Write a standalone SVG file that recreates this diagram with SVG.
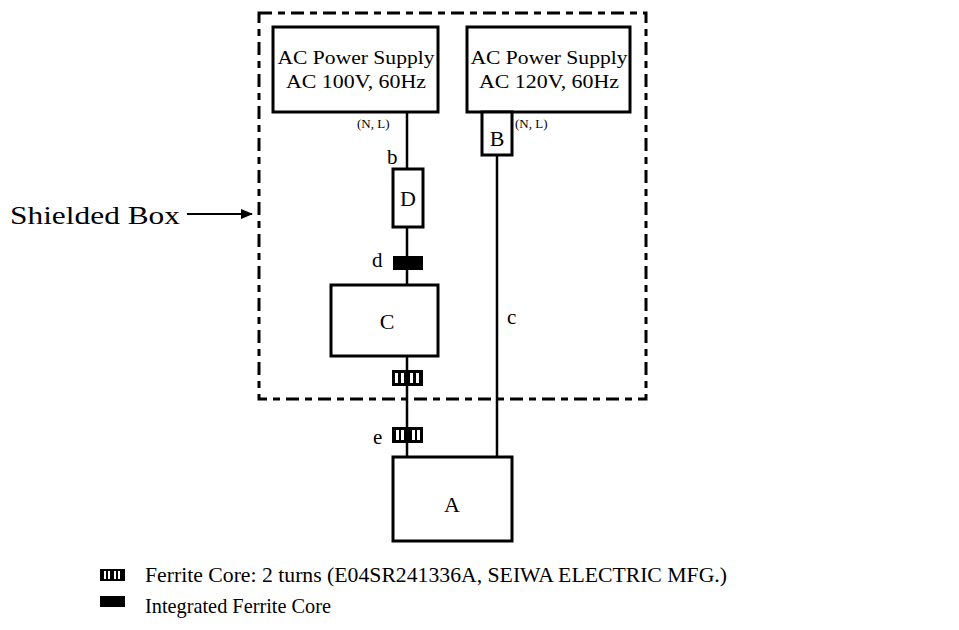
<svg xmlns="http://www.w3.org/2000/svg" width="959" height="630" viewBox="0 0 959 630">
<defs>
<style>
.t{font-family:"Liberation Serif","Times New Roman",serif;fill:#000}
.box{fill:#fff;stroke:#000;stroke-width:3}
.w{stroke:#000;stroke-width:2.5;fill:none}
.sh{fill:none;stroke:#000;stroke-width:3;stroke-dasharray:13,6,7,6}
.slot{fill:#fff}
</style>
<marker id="ah" markerWidth="12" markerHeight="10" refX="11" refY="5" orient="auto" markerUnits="userSpaceOnUse">
<path d="M0,0 L12,5 L0,10 Z" fill="#000"/>
</marker>
</defs>
<rect width="959" height="630" fill="#fff"/>
<g id="shielded-box">
<rect class="sh" x="259" y="13" width="387" height="386"/>
<text class="t" x="10" y="224" font-size="25" textLength="170" lengthAdjust="spacingAndGlyphs">Shielded Box</text>
</g>
<g id="connectors">
<line class="w" x1="407" y1="112" x2="407" y2="169"/>
<line class="w" x1="407" y1="227" x2="407" y2="285"/>
<line class="w" x1="407" y1="356" x2="407" y2="457"/>
<line class="w" x1="497" y1="155" x2="497" y2="457"/>
<line x1="187" y1="214" x2="252" y2="214" stroke="#000" stroke-width="2" marker-end="url(#ah)"/>
</g>
<g id="ps100">
<rect class="box" x="273" y="27" width="165" height="85"/>
<text class="t" x="356" y="64" font-size="19" text-anchor="middle" textLength="157" lengthAdjust="spacingAndGlyphs">AC Power Supply</text>
<text class="t" x="356" y="88" font-size="19" text-anchor="middle" textLength="140" lengthAdjust="spacingAndGlyphs">AC 100V, 60Hz</text>
<text class="t" x="357" y="128" font-size="13">(N, L)</text>
</g>
<g id="ps120">
<rect class="box" x="467" y="27" width="163" height="85"/>
<text class="t" x="549" y="64" font-size="19" text-anchor="middle" textLength="157" lengthAdjust="spacingAndGlyphs">AC Power Supply</text>
<text class="t" x="549" y="88" font-size="19" text-anchor="middle" textLength="140" lengthAdjust="spacingAndGlyphs">AC 120V, 60Hz</text>
<text class="t" x="515" y="128" font-size="13">(N, L)</text>
</g>
<g id="B">
<rect class="box" x="482" y="112" width="30" height="43"/>
<text class="t" x="497" y="146" font-size="22" text-anchor="middle">B</text>
</g>
<g id="b-label"><text class="t" x="387" y="164" font-size="21">b</text></g>
<g id="D">
<rect class="box" x="393" y="169" width="30" height="58"/>
<text class="t" x="408" y="206" font-size="22" text-anchor="middle">D</text>
</g>
<g id="d-core">
<text class="t" x="372" y="267" font-size="21">d</text>
<rect x="393" y="256" width="30" height="14" fill="#000"/>
</g>
<g id="C">
<rect class="box" x="331" y="285" width="107" height="71"/>
<text class="t" x="387" y="329" font-size="22" text-anchor="middle">C</text>
</g>
<g id="c-label"><text class="t" x="507" y="324" font-size="21">c</text></g>
<g id="core1">
<rect x="392" y="370" width="31" height="16" fill="#000"/>
<rect class="slot" x="395" y="373" width="3" height="10"/>
<rect class="slot" x="401" y="373" width="3" height="10"/>
<rect class="slot" x="410" y="373" width="3" height="10"/>
<rect class="slot" x="416" y="373" width="3" height="10"/>
</g>
<g id="core-e">
<text class="t" x="373" y="444" font-size="21">e</text>
<rect x="392" y="427" width="31" height="16" fill="#000"/>
<rect class="slot" x="396" y="430" width="3" height="10"/>
<rect class="slot" x="401" y="430" width="3" height="10"/>
<rect class="slot" x="412" y="430" width="3" height="10"/>
<rect class="slot" x="417" y="430" width="3" height="10"/>
</g>
<g id="A">
<rect class="box" x="393" y="457" width="119" height="84"/>
<text class="t" x="452" y="512" font-size="22" text-anchor="middle">A</text>
</g>
<g id="legend">
<rect x="100" y="569" width="25" height="12" fill="#000"/>
<rect class="slot" x="104" y="571" width="2" height="8"/>
<rect class="slot" x="108" y="571" width="2" height="8"/>
<rect class="slot" x="114" y="571" width="2" height="8"/>
<rect class="slot" x="118" y="571" width="2" height="8"/>
<text class="t" x="145" y="582" font-size="22" textLength="582" lengthAdjust="spacingAndGlyphs">Ferrite Core: 2 turns (E04SR241336A, SEIWA ELECTRIC MFG.)</text>
<rect x="100" y="596" width="25" height="11" fill="#000"/>
<text class="t" x="145" y="613" font-size="22" textLength="186" lengthAdjust="spacingAndGlyphs">Integrated Ferrite Core</text>
</g>
</svg>
